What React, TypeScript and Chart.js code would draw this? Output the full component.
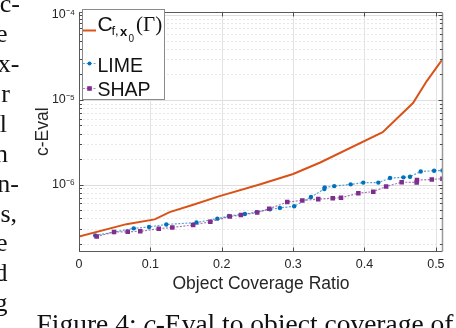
import React, { useEffect, useRef } from 'react';
import { Chart, registerables } from 'chart.js';

Chart.register(...registerables);

// ---- data ----
const orangeX = [0, 0.0665, 0.106, 0.127, 0.16, 0.197, 0.253, 0.3, 0.338, 0.4255, 0.468, 0.487, 0.51];
const orangeY = [2.44e-7, 3.41e-7, 3.88e-7, 4.73e-7, 5.77e-7, 7.3e-7, 1.0e-6, 1.33e-6, 1.82e-6, 4.14e-6, 9.16e-6, 1.65e-5, 3.07e-5];

const limeX = [0.0227, 0.0491, 0.0767, 0.0982, 0.1223, 0.1646, 0.1938, 0.21, 0.2324, 0.2488, 0.2675, 0.2815, 0.3015, 0.325, 0.3437, 0.3442, 0.3576, 0.3806, 0.3983, 0.4194, 0.4358, 0.4545, 0.4638, 0.4788, 0.4975, 0.5092];
const limeY = [2.51e-7, 2.75e-7, 3.04e-7, 3.16e-7, 3.38e-7, 3.56e-7, 3.96e-7, 4.25e-7, 4.49e-7, 4.73e-7, 5.12e-7, 5.3e-7, 5.54e-7, 7.13e-7, 8.85e-7, 9.24e-7, 9.58e-7, 1.005e-6, 1.054e-6, 1.054e-6, 1.194e-6, 1.216e-6, 1.236e-6, 1.425e-6, 1.456e-6, 1.465e-6];

const shapX = [0.0248, 0.0491, 0.0683, 0.0858, 0.1118, 0.1307, 0.1599, 0.184, 0.2113, 0.2268, 0.2497, 0.2665, 0.2918, 0.3129, 0.3352, 0.3555, 0.3671, 0.3914, 0.4123, 0.4303, 0.4521, 0.4731, 0.4735, 0.4943, 0.5092];
const shapY = [2.44e-7, 2.75e-7, 2.77e-7, 2.81e-7, 3.01e-7, 3.12e-7, 3.33e-7, 3.63e-7, 4.2e-7, 4.37e-7, 4.67e-7, 5.19e-7, 6.21e-7, 6.5e-7, 6.73e-7, 6.89e-7, 7.0e-7, 7.89e-7, 8.24e-7, 9.48e-7, 1.066e-6, 1.06e-6, 1.127e-6, 1.148e-6, 1.172e-6];

const seriesNames = ['C_f,x0(Γ)', 'LIME', 'SHAP'];
const legendMainParts = ['C', 'f,', 'x', '0', '(Γ)'];

const xRange = [0, 0.51];
const yRange = [1.6e-7, 1.1e-4];
const xTickValues = [0, 0.1, 0.2, 0.3, 0.4, 0.5];
const xTickLabels = ['0', '0.1', '0.2', '0.3', '0.4', '0.5'];
const yMajorValues = [1e-6, 1e-5, 1e-4];
const yMajorLabels = ['10⁻⁶', '10⁻⁵', '10⁻⁴'];
const yMinorDecades = [1e-7, 1e-6, 1e-5];
const yMinorMultipliers = [2, 3, 4, 5, 6, 7, 8, 9];

const xTitle = 'Object Coverage Ratio';
const yTitle = 'c-Eval';

const leftColumnText = ['c-', 'e', 'x-', 'r', 'l', 'n', 'n-', 's,', 'e', 'd', 'g'];
const captionPre = 'Figure 4: ';
const captionItalic = 'c';
const captionPost = '-Eval to object coverage of';

// ---- styles ----
const ORANGE = '#D95319';
const BLUE = '#0072BD';
const PURPLE = '#7E2F8E';
const AXIS = '#262626';
const SANS = '"Liberation Sans", Arial, sans-serif';
const SERIF = '"Liberation Serif", "Times New Roman", serif';

const leftColumnRight = [20, 7.5, 19.5, 10, 7, 8, 19, 17, 7.5, 7.5, 7.5];
const leftColumnBaseline0 = 13;
const leftColumnStep = 29.9;

const isMajor = (v: number) => {
  const l = Math.log10(v);
  return Math.abs(l - Math.round(l)) < 1e-9;
};

const yTickValues = (() => {
  const out: number[] = [];
  yMinorDecades.forEach((d) => yMinorMultipliers.forEach((m) => out.push(m * d)));
  yMajorValues.forEach((v) => out.push(v));
  return out.filter((v) => v >= yRange[0] && v <= yRange[1]).sort((a, b) => a - b);
})();

const matlabPlugin = {
  id: 'matlabAxes',
  beforeDatasetsDraw(chart: any) {
    const { ctx, chartArea: a, scales } = chart;
    const xs = scales.x;
    const ys = scales.y;
    ctx.save();
    ctx.lineWidth = 1;
    ys.ticks.forEach((t: any) => {
      const y = Math.round(ys.getPixelForValue(t.value)) + 0.5;
      const major = isMajor(t.value);
      ctx.strokeStyle = major ? '#dedede' : '#e8e8e8';
      ctx.setLineDash(major ? [] : [2, 2]);
      ctx.beginPath();
      ctx.moveTo(a.left, y);
      ctx.lineTo(a.right, y);
      ctx.stroke();
    });
    ctx.setLineDash([]);
    ctx.strokeStyle = '#e2e2e2';
    xs.ticks.forEach((t: any) => {
      const x = Math.round(xs.getPixelForValue(t.value)) + 0.5;
      ctx.beginPath();
      ctx.moveTo(x, a.top);
      ctx.lineTo(x, a.bottom);
      ctx.stroke();
    });
    ctx.restore();
  },
  afterDatasetsDraw(chart: any) {
    const { ctx, chartArea: a, scales } = chart;
    const xs = scales.x;
    const ys = scales.y;
    const L = Math.round(a.left) + 0.5;
    const R = Math.round(a.right) - 0.5;
    const T = Math.round(a.top) + 0.5;
    const B = Math.round(a.bottom) - 0.5;
    ctx.save();
    ctx.lineWidth = 1;
    ctx.strokeStyle = '#5a5a5a';
    ctx.beginPath();
    ctx.moveTo(L, T);
    ctx.lineTo(R, T);
    ctx.moveTo(L, T);
    ctx.lineTo(L, B);
    ctx.lineTo(R, B);
    ctx.stroke();
    ctx.strokeStyle = '#9a9a9a';
    ctx.lineWidth = 1.5;
    ctx.beginPath();
    ctx.moveTo(R, T);
    ctx.lineTo(R, B);
    ctx.stroke();
    ctx.lineWidth = 1;
    ctx.strokeStyle = '#4a4a4a';
    ys.ticks.forEach((t: any) => {
      const y = Math.round(ys.getPixelForValue(t.value)) + 0.5;
      const len = isMajor(t.value) ? 4 : 2.5;
      ctx.beginPath();
      ctx.moveTo(L, y);
      ctx.lineTo(L + len, y);
      ctx.moveTo(R, y);
      ctx.lineTo(R - len, y);
      ctx.stroke();
    });
    xs.ticks.forEach((t: any) => {
      const x = Math.round(xs.getPixelForValue(t.value)) + 0.5;
      ctx.beginPath();
      ctx.moveTo(x, B);
      ctx.lineTo(x, B - 4);
      ctx.moveTo(x, T);
      ctx.lineTo(x, T + 4);
      ctx.stroke();
    });
    ctx.restore();
  },
  afterDraw(chart: any) {
    const { ctx } = chart;
    ctx.save();
    // legend box
    ctx.fillStyle = '#ffffff';
    ctx.fillRect(82, 9, 83, 91);
    ctx.strokeStyle = '#8a8a8a';
    ctx.lineWidth = 1;
    ctx.strokeRect(82.5, 9.5, 82, 90);

    // row 1: orange line
    ctx.strokeStyle = ORANGE;
    ctx.lineWidth = 2;
    ctx.beginPath();
    ctx.moveTo(83, 30.5);
    ctx.lineTo(96, 30.5);
    ctx.stroke();
    ctx.fillStyle = '#111';
    ctx.textBaseline = 'alphabetic';
    ctx.textAlign = 'left';
    ctx.font = `21px ${SANS}`;
    ctx.fillText(legendMainParts[0], 97.5, 30.5);
    ctx.font = `13px ${SANS}`;
    ctx.fillText(legendMainParts[1], 111.5, 34.5);
    ctx.font = `bold 13px ${SANS}`;
    ctx.fillText(legendMainParts[2], 120, 35.5);
    ctx.font = `10px ${SANS}`;
    ctx.fillText(legendMainParts[3], 128.5, 42);
    ctx.font = `21px ${SERIF}`;
    ctx.fillText(legendMainParts[4], 136, 30.5);

    // row 2: LIME
    ctx.strokeStyle = 'rgba(0,114,189,0.6)';
    ctx.lineWidth = 1.2;
    ctx.setLineDash([2, 1.5]);
    ctx.beginPath();
    ctx.moveTo(83, 63.5);
    ctx.lineTo(96, 63.5);
    ctx.stroke();
    ctx.setLineDash([]);
    ctx.fillStyle = BLUE;
    ctx.beginPath();
    ctx.arc(89.5, 63.5, 2, 0, Math.PI * 2);
    ctx.fill();
    ctx.fillStyle = '#111';
    ctx.font = `19.5px ${SANS}`;
    ctx.fillText(seriesNames[1], 97.5, 72);

    // row 3: SHAP
    ctx.strokeStyle = 'rgba(126,47,142,0.6)';
    ctx.lineWidth = 1.2;
    ctx.setLineDash([2, 1.5]);
    ctx.beginPath();
    ctx.moveTo(83, 88.5);
    ctx.lineTo(96, 88.5);
    ctx.stroke();
    ctx.setLineDash([]);
    ctx.fillStyle = PURPLE;
    ctx.fillRect(87.2, 86.2, 4.6, 4.6);
    ctx.fillStyle = '#111';
    ctx.fillText(seriesNames[2], 97.5, 96);
    ctx.restore();
  },
};

export default function App() {
  const canvasRef = useRef<HTMLCanvasElement | null>(null);

  useEffect(() => {
    const canvas = canvasRef.current;
    if (!canvas) return;
    const chart = new Chart(canvas, {
      type: 'scatter',
      data: {
        datasets: [
          {
            label: seriesNames[0],
            data: orangeX.map((x, i) => ({ x, y: orangeY[i] })),
            showLine: true,
            borderColor: ORANGE,
            backgroundColor: ORANGE,
            borderWidth: 2,
            pointRadius: 0,
            tension: 0,
            order: 0,
          },
          {
            label: seriesNames[1],
            data: limeX.map((x, i) => ({ x, y: limeY[i] })),
            showLine: true,
            borderColor: 'rgba(0,114,189,0.65)',
            borderWidth: 1.2,
            borderDash: [2, 1.5],
            pointRadius: 2.2,
            pointStyle: 'circle',
            pointBackgroundColor: BLUE,
            pointBorderWidth: 0,
            order: 2,
          },
          {
            label: seriesNames[2],
            data: shapX.map((x, i) => ({ x, y: shapY[i] })),
            showLine: true,
            borderColor: 'rgba(126,47,142,0.65)',
            borderWidth: 1.2,
            borderDash: [2, 1.5],
            pointRadius: 3.2,
            pointStyle: 'rect',
            pointBackgroundColor: PURPLE,
            pointBorderWidth: 0,
            order: 1,
          },
        ],
      },
      options: {
        animation: false,
        responsive: false,
        devicePixelRatio: 1,
        layout: { autoPadding: false, padding: { left: 0, top: 5, right: 13, bottom: 0 } },
        plugins: { legend: { display: false }, tooltip: { enabled: false } },
        scales: {
          x: {
            type: 'linear',
            min: xRange[0],
            max: xRange[1],
            grid: { display: false, drawTicks: false },
            border: { display: false },
            afterBuildTicks: (scale: any) => {
              scale.ticks = xTickValues.map((v) => ({ value: v }));
            },
            afterFit: (scale: any) => {
              scale.height = 76;
            },
            ticks: {
              autoSkip: false,
              maxRotation: 0,
              padding: 5,
              color: AXIS,
              font: { family: SANS, size: 12.5 },
              callback: (v: any) => {
                const i = xTickValues.findIndex((t) => Math.abs(t - v) < 1e-9);
                return i >= 0 ? xTickLabels[i] : '';
              },
            },
            title: {
              display: true,
              text: xTitle,
              color: AXIS,
              font: { family: SANS, size: 17.5 },
              padding: { top: 0, bottom: 33.5 },
            },
          },
          y: {
            type: 'logarithmic',
            min: yRange[0],
            max: yRange[1],
            grid: { display: false, drawTicks: false },
            border: { display: false },
            afterBuildTicks: (scale: any) => {
              scale.ticks = yTickValues.map((v) => ({ value: v, major: isMajor(v) }));
            },
            afterFit: (scale: any) => {
              scale.width = 79;
            },
            ticks: {
              autoSkip: false,
              padding: 4,
              color: AXIS,
              font: { family: SANS, size: 12.5 },
              callback: (v: any) => {
                const i = yMajorValues.findIndex((t) => Math.abs(t - v) / t < 1e-6);
                return i >= 0 ? yMajorLabels[i] : '';
              },
            },
            title: {
              display: true,
              text: yTitle,
              color: AXIS,
              font: { family: SANS, size: 17.5 },
              padding: { top: 33, bottom: 0 },
            },
          },
        },
      },
      plugins: [matlabPlugin],
    } as any);
    return () => chart.destroy();
  }, []);

  return (
    <div
      style={{
        position: 'absolute',
        left: 0,
        top: 0,
        width: 456,
        height: 328,
        overflow: 'hidden',
        background: '#fff',
      }}
    >
      <canvas ref={canvasRef} width={456} height={328} style={{ position: 'absolute', left: 0, top: 0 }} />
      {leftColumnText.map((t, i) => (
        <span
          key={i}
          style={{
            position: 'absolute',
            right: 456 - leftColumnRight[i],
            top: leftColumnBaseline0 + i * leftColumnStep - 21.8,
            font: `26px ${SERIF}`,
            lineHeight: '26px',
            whiteSpace: 'nowrap',
            color: '#111',
          }}
        >
          {t}
        </span>
      ))}
      <span
        style={{
          position: 'absolute',
          left: 36.5,
          top: 310,
          font: `27.5px ${SERIF}`,
          lineHeight: '27.5px',
          whiteSpace: 'nowrap',
          color: '#111',
        }}
      >
        {captionPre}
        <i>{captionItalic}</i>
        {captionPost}
      </span>
    </div>
  );
}
